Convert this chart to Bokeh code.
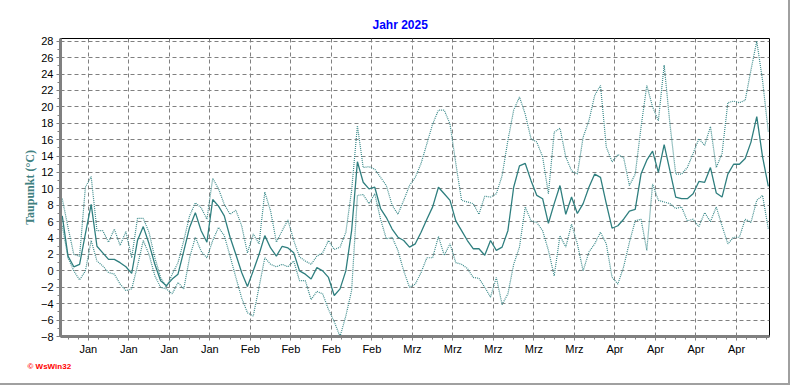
from bokeh.plotting import figure
from bokeh.models import ColumnDataSource, FixedTicker, Range1d, Title
from bokeh.embed import file_html
from bokeh.resources import INLINE

# ---- data (daily dew point, 1 Jan 2025 .. 3 May 2025) ----
taupunkt_mittel = [
    6.7, 1.8, 0.5, 0.8, 4.5, 8.1, 3.0, 2.2, 1.4, 1.4,
    1.0, 0.5, -0.3, 3.7, 5.4, 3.3, 0.8, -1.2, -1.8, -1.0,
    -0.4, 2.4, 5.3, 7.1, 4.9, 3.5, 8.7, 7.9, 6.7, 4.1,
    2.0, -0.2, -1.9, 0.0, 2.0, 4.3, 2.8, 1.8, 3.0, 2.8,
    2.2, 0.0, -0.4, -1.0, 0.4, 0.0, -0.8, -3.0, -2.2, 0.0,
    4.9, 13.3, 10.8, 10.0, 10.2, 7.6, 6.5, 5.1, 4.1, 3.7,
    2.9, 3.3, 4.7, 6.3, 7.8, 10.2, 9.4, 8.6, 6.1, 4.9,
    3.7, 2.7, 2.7, 1.9, 3.7, 2.5, 2.9, 4.9, 10.2, 12.8,
    13.1, 11.0, 9.2, 8.8, 5.8, 8.2, 10.4, 6.9, 9.0, 7.0,
    8.2, 10.2, 11.8, 11.4, 8.2, 5.2, 5.5, 6.3, 7.3, 7.5,
    11.8, 13.5, 14.6, 12.0, 15.4, 12.2, 9.0, 8.8, 8.8, 9.4,
    10.9, 10.8, 12.6, 9.5, 9.0, 11.8, 13.0, 13.0, 13.7, 15.7,
    18.8, 13.9, 10.3,
]
taupunkt_max = [
    8.8, 5.3, 2.0, 1.8, 10.2, 11.5, 4.9, 4.9, 3.5, 5.1,
    3.1, 4.8, 1.6, 6.4, 6.4, 4.7, 1.6, -0.8, -2.0, -0.4,
    1.0, 3.7, 6.7, 8.3, 7.7, 6.3, 11.3, 10.0, 8.1, 6.9,
    7.4, 5.5, 2.2, 4.5, 3.3, 9.6, 7.3, 3.5, 4.9, 6.2,
    3.7, 1.7, 1.2, 0.8, 1.8, 2.2, 3.7, 2.6, 2.9, 4.7,
    9.8, 17.7, 12.6, 12.7, 12.4, 11.4, 10.4, 8.0, 6.9, 8.6,
    10.4, 11.4, 13.1, 15.5, 17.9, 19.6, 19.6, 17.9, 13.1, 8.6,
    8.4, 8.2, 6.9, 9.1, 9.0, 9.4, 11.6, 15.9, 19.6, 21.2,
    19.1, 16.1, 15.7, 13.9, 9.4, 16.9, 17.4, 13.9, 12.2, 11.8,
    16.3, 18.3, 21.4, 22.6, 15.1, 13.3, 14.2, 13.8, 10.4, 11.8,
    17.5, 22.6, 20.0, 18.3, 25.1, 17.9, 11.8, 11.8, 12.6, 14.3,
    16.1, 15.3, 17.6, 12.6, 14.3, 20.5, 20.7, 20.5, 20.8, 24.5,
    28.0, 23.2, 16.9,
]
taupunkt_min = [
    5.5, 1.6, 0.0, -1.1, 0.0, 3.7, 1.2, 0.6, -0.2, -0.4,
    -1.6, -2.4, -2.2, 0.6, 3.7, 2.0, -0.6, -2.0, -2.2, -2.8,
    -1.4, -2.2, 1.6, 4.1, 2.4, 1.6, 3.7, 5.3, 4.3, 1.8,
    -0.8, -3.3, -5.1, -5.5, -2.0, 1.6, 0.8, 0.5, 0.8, 0.5,
    1.2, -1.2, -1.2, -3.5, -2.5, -2.8, -4.7, -6.2, -8.0, -5.5,
    -2.4, 9.2, 9.3, 8.2, 9.4, 6.3, 3.9, 4.1, 2.5, 0.0,
    -2.0, -1.6, -0.2, 1.6, 1.6, 4.2, 1.9, 3.3, 1.0, 0.8,
    0.3, -0.8, -0.9, -2.0, -3.2, -0.8, -4.1, -2.8, 0.8, 2.9,
    7.8, 6.1, 5.9, 4.9, 2.5, -0.6, 4.3, 2.9, 5.7, 3.3,
    0.0, 2.3, 3.3, 4.7, 3.3, -0.8, -1.6, 0.5, 3.5, 6.1,
    6.3, 2.5, 10.6, 8.6, 8.4, 8.2, 7.6, 7.8, 6.1, 6.3,
    5.4, 7.1, 6.0, 7.8, 5.5, 3.3, 4.1, 4.1, 6.3, 5.9,
    8.6, 9.2, 5.1,
]
# weekly ticks (Mondays, days after 1 Jan 2025) and their labels
week_ticks = [5, 12, 19, 26, 33, 40, 47, 54, 61, 68, 75, 82, 89, 96, 103, 110, 117]
week_labels = ["Jan", "Jan", "Jan", "Jan", "Feb", "Feb", "Feb", "Feb",
               "Mrz", "Mrz", "Mrz", "Mrz", "Mrz", "Apr", "Apr", "Apr", "Apr"]
y_ticks = list(range(-8, 29, 2))

n = len(taupunkt_mittel)
tage = [i + 0.5 for i in range(n)]
src = ColumnDataSource(dict(x=tage, mittel=taupunkt_mittel, hi=taupunkt_max, lo=taupunkt_min))

p = figure(width=790, height=385, output_backend="svg", toolbar_location=None,
           x_range=Range1d(0.2, 122.7), y_range=Range1d(-8, 28.33),
           min_border_left=60, min_border_right=21, min_border_top=38, min_border_bottom=49,
           background_fill_color="white", border_fill_color="white")
p.styles = {"border-right": "2px solid #a0a0a0", "border-bottom": "2px solid #a0a0a0"}

p.outline_line_color = "black"
p.outline_line_width = 1

# title
p.title.text = "Jahr 2025"
p.title.align = "left"
p.title.offset = 312
p.title.standoff = 14
p.title.text_color = "#0000FF"
p.title.text_font = "Liberation Sans"
p.title.text_font_style = "bold"
p.title.text_font_size = "12px"

grid_col = "#808080"
p.xgrid.ticker = FixedTicker(ticks=week_ticks)
p.ygrid.ticker = FixedTicker(ticks=y_ticks)
for g in (p.xgrid, p.ygrid):
    g.grid_line_color = grid_col
    g.grid_line_dash = "4 3"
    g.grid_line_width = 1

minor_x = [5 + k * 1.75 for k in range(-2, 68) if 0.2 < 5 + k * 1.75 < 122.7]
p.xaxis.ticker = FixedTicker(ticks=week_ticks, minor_ticks=minor_x)
p.xaxis.major_label_overrides = {t: lab for t, lab in zip(week_ticks, week_labels)}
p.yaxis.ticker = FixedTicker(ticks=y_ticks, minor_ticks=list(range(-8, 29, 1)))

for ax in (p.xaxis, p.yaxis):
    ax.axis_line_color = grid_col
    ax.axis_line_width = 3
    ax.major_tick_line_color = grid_col
    ax.minor_tick_line_color = grid_col
    ax.major_tick_in = 0
    ax.minor_tick_in = 0
    ax.major_tick_out = 4
    ax.minor_tick_out = 3
    ax.major_label_text_font = "Liberation Sans"
    ax.major_label_text_font_size = "11px"
    ax.major_label_text_color = "black"

p.xaxis.major_label_standoff = 2
p.yaxis.major_label_standoff = 3

p.yaxis.axis_label = "Taupunkt (°C)"
p.yaxis.axis_label_text_font = "Liberation Serif"
p.yaxis.axis_label_text_font_style = "bold"
p.yaxis.axis_label_text_font_size = "12px"
p.yaxis.axis_label_text_color = "#408080"
p.yaxis.axis_label_standoff = 1

line_col = "#2F7F7F"
p.line("x", "hi", source=src, line_color="#3A8A8A", line_width=1.2, line_dash="1 1")
p.line("x", "lo", source=src, line_color="#3A8A8A", line_width=1.2, line_dash="1 1")
p.line("x", "mittel", source=src, line_color=line_col, line_width=1.3)

# small program mark below the axis
mark = Title(text="© WsWin32", align="left", offset=-33, standoff=4,
             text_color="red", text_font="Liberation Sans", text_font_style="bold",
             text_font_size="8px")
p.add_layout(mark, "below")

open("out.html", "w").write(file_html(p, INLINE))
